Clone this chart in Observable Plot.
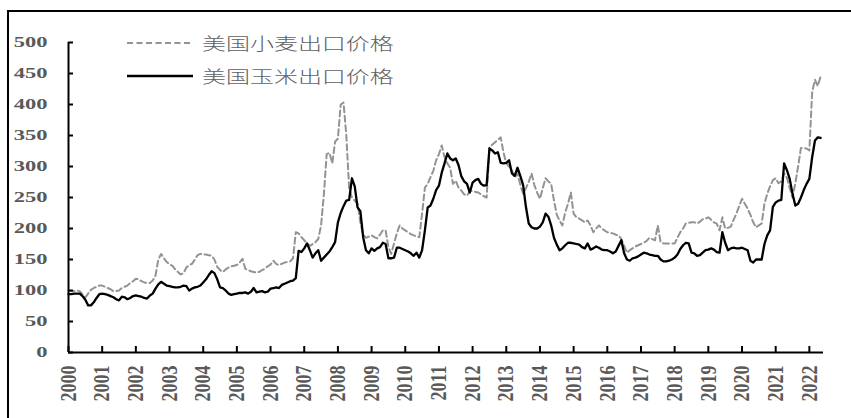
<!DOCTYPE html>
<html><head><meta charset="utf-8">
<script src="https://cdn.jsdelivr.net/npm/d3@7"></script>
<script src="https://cdn.jsdelivr.net/npm/@observablehq/plot@0.6"></script>
<style>
body{margin:0;background:#fff;}
#wrap{position:relative;width:851px;height:418px;overflow:hidden;}
#frame{position:absolute;left:7px;top:10px;width:900px;height:500px;border-top:2px solid #000;border-left:2px solid #000;box-sizing:border-box;}
#chart{position:absolute;left:0;top:0;}
.leg{position:absolute;left:127px;height:24px;display:flex;align-items:center;}
.leg svg{display:block}
.leg span{font-family:"Noto Sans CJK SC";font-weight:300;font-size:17px;color:#5f5f5f;display:inline-block;transform:scaleX(1.41);transform-origin:left center;margin-left:9px;white-space:nowrap;line-height:24px;}
</style>
</head><body>
<div id="wrap">
  <div id="frame"></div>
  <div id="chart"></div>
  <div class="leg" style="top:31px"><svg width="66" height="4"><line x1="0" y1="2" x2="66" y2="2" stroke="#939393" stroke-width="2" stroke-dasharray="6,3.5"/></svg><span id="lw"></span></div>
  <div class="leg" style="top:64px"><svg width="66" height="4"><line x1="0" y1="2" x2="66" y2="2" stroke="#000" stroke-width="2.3"/></svg><span id="lc"></span></div>
</div>
<script>
const seriesNames = ["美国小麦出口价格", "美国玉米出口价格"];
const startYear = 2000;
const yearTicks = d3.range(2000, 2023);
const yTicks = [0, 50, 100, 150, 200, 250, 300, 350, 400, 450, 500];

// monthly values, Jan 2000 .. May 2022
const wheatPrice = [
  100,99,99,100,99,94,89,95,101,104,106,108,      // 2000
  108,106,104,102,99,99,100,104,106,108,112,115,   // 2001
  119,118,115,113,112,112,116,124,150,159,152,146, // 2002
  142,140,134,130,126,128,137,141,143,150,157,159, // 2003
  158,158,157,156,150,138,133,130,134,137,139,140, // 2004
  141,145,151,135,133,131,130,129,130,133,135,139, // 2005
  142,148,143,141,143,145,146,147,152,194,192,186, // 2006
  181,176,172,175,178,183,205,255,320,322,305,340, // 2007
  345,400,403,350,265,250,245,240,210,190,185,187, // 2008
  189,186,184,190,197,197,170,159,176,192,205,200, // 2009
  197,194,191,189,187,186,224,266,272,283,293,310, // 2010
  320,334,315,305,298,272,277,266,261,255,253,260, // 2011
  261,259,258,255,252,250,331,335,339,343,347,323, // 2012
  305,300,294,282,289,270,256,265,275,289,270,258, // 2013
  248,265,281,276,272,245,222,213,205,226,240,258, // 2014
  224,218,216,213,210,213,205,194,200,205,200,197, // 2015
  194,193,192,190,189,183,172,161,165,168,171,173, // 2016
  175,177,180,185,183,181,205,178,176,176,176,176, // 2017
  176,185,194,200,208,209,210,210,208,211,215,216, // 2018
  218,214,210,208,197,218,200,201,203,214,224,236, // 2019
  248,240,232,222,210,202,205,208,240,256,268,278, // 2020
  281,273,276,289,282,265,250,273,300,330,330,329, // 2021
  326,420,440,430,445                               // 2022
];
const cornPrice = [
  94,94,95,95,95,91,85,76,76,81,88,94,             // 2000
  95,94,93,91,89,86,84,90,89,86,88,91,             // 2001
  92,91,90,88,87,92,95,103,110,114,111,108,        // 2002
  107,106,105,105,106,108,107,100,103,105,106,108, // 2003
  113,118,125,131,128,118,105,104,100,95,93,94,    // 2004
  95,96,96,97,95,98,104,97,98,99,97,98,            // 2005
  103,104,105,104,109,111,113,115,116,120,164,162, // 2006
  168,176,165,153,160,165,148,153,158,163,170,178, // 2007
  210,225,236,245,246,281,268,234,228,186,165,160, // 2008
  168,164,168,170,177,175,152,152,153,169,169,167, // 2009
  165,163,160,156,161,153,165,197,234,237,248,262, // 2010
  269,290,305,321,313,310,313,302,284,276,272,258, // 2011
  274,278,280,272,269,270,329,326,321,323,306,305, // 2012
  306,310,289,285,298,285,270,235,208,202,200,200, // 2013
  203,210,224,219,205,185,174,165,168,173,177,177, // 2014
  176,175,174,170,168,176,166,168,171,169,166,165, // 2015
  165,163,160,163,172,181,160,150,148,152,153,155, // 2016
  158,161,160,158,157,156,156,150,147,147,148,150, // 2017
  153,158,167,173,177,176,161,160,156,157,161,165, // 2018
  166,168,166,162,161,194,177,165,168,169,168,168, // 2019
  169,167,165,148,145,150,150,150,175,189,197,235, // 2020
  242,245,246,305,294,280,256,237,240,250,262,272, // 2021
  280,315,342,347,346                               // 2022
];

const toRows = arr => arr.map((v, i) => ({t: startYear + i / 12, v}));
const wheatRows = toRows(wheatPrice);
const cornRows = toRows(cornPrice);

document.getElementById("lw").textContent = seriesNames[0];
document.getElementById("lc").textContent = seriesNames[1];

const chart = Plot.plot({
  width: 851, height: 418,
  marginLeft: 68, marginRight: 28, marginTop: 42, marginBottom: 66,
  x: {domain: [2000, 2022.42], label: null},
  y: {domain: [0, 500], label: null},
  style: {fontFamily: '"Liberation Serif", serif', fontWeight: "bold", color: "#595959", background: "transparent", overflow: "visible"},
  marks: [
    Plot.line(wheatRows, {x: "t", y: "v", stroke: "#939393", strokeWidth: 2, strokeDasharray: "6,3.5"}),
    Plot.line(cornRows, {x: "t", y: "v", stroke: "#000", strokeWidth: 2.3}),
    Plot.ruleY([0], {stroke: "#000", strokeWidth: 2}),
    Plot.ruleX([2000], {stroke: "#000", strokeWidth: 2}),
    Plot.axisY(yTicks, {tickSize: -5, tickPadding: 26, stroke: "#000", strokeWidth: 2, fill: "#595959", tickFormat: d => String(d), label: null}),
    Plot.axisX(yearTicks, {tickSize: -6, tickPadding: 19, tickRotate: -90, stroke: "#000", strokeWidth: 2, fill: "#595959", tickFormat: d => String(d), label: null})
  ]
});
document.getElementById("chart").appendChild(chart);

function stretch(sel, sx, fs) {
  chart.querySelectorAll(sel).forEach(t => {
    t.style.fontSize = fs + "px";
    t.style.fontWeight = "bold";
    const tr = t.getAttribute("transform");
    if (tr) {
      const i = tr.indexOf(")");
      t.setAttribute("transform", tr.slice(0, i + 1) + ` scale(${sx},1)` + tr.slice(i + 1));
    } else {
      const x = t.getAttribute("x") || 0, y = t.getAttribute("y") || 0;
      t.removeAttribute("x"); t.removeAttribute("y");
      t.setAttribute("transform", `translate(${x},${y}) scale(${sx},1)`);
    }
  });
}
stretch('g[aria-label="y-axis tick label"] text', 1.5, 15);
stretch('g[aria-label="x-axis tick label"] text', 1.25, 18);
</script>
</body></html>
